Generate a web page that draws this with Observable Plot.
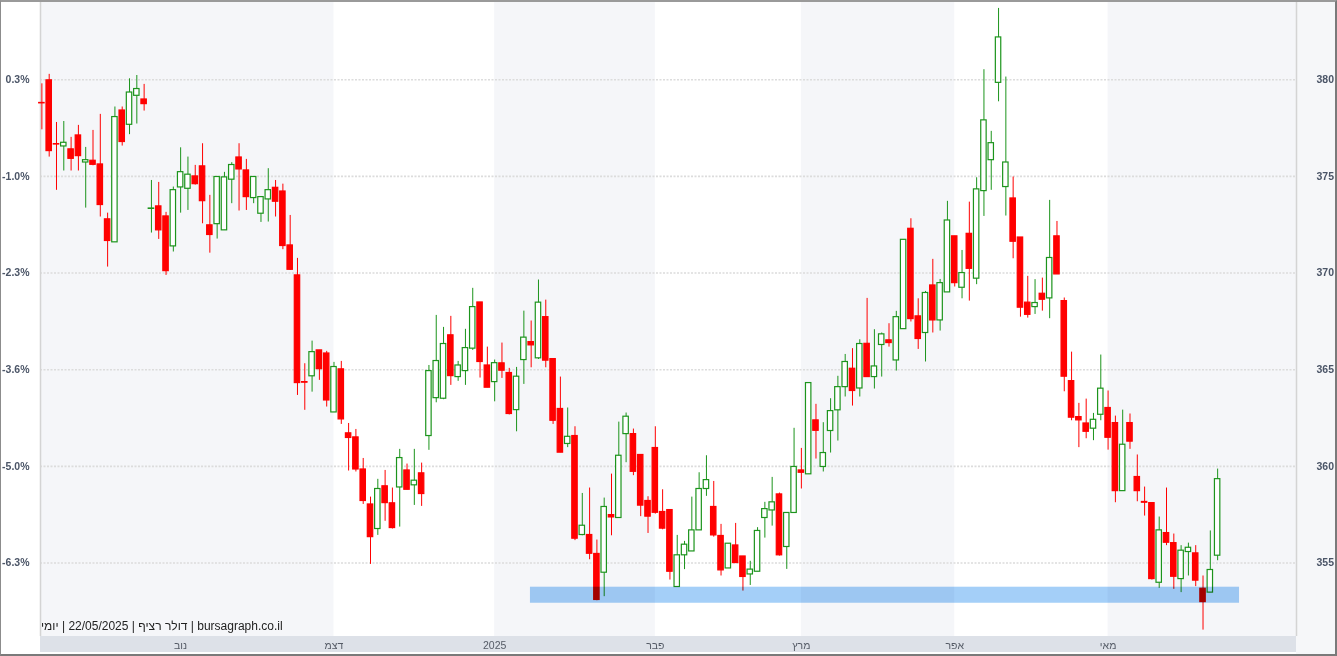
<!DOCTYPE html>
<html><head><meta charset="utf-8">
<script src="https://cdn.jsdelivr.net/npm/d3@7"></script>
<script src="https://cdn.jsdelivr.net/npm/@observablehq/plot@0.6"></script>
<style>
html,body{margin:0;padding:0;background:#fff;}
#wrap{position:relative;width:1337px;height:656px;overflow:hidden;}
#wrap svg{display:block;}
#frame{position:absolute;left:0;top:0;width:1337px;height:656px;box-sizing:border-box;border:1px solid #8c8c8c;border-top:2px solid #9a9a9a;border-right:2px solid #7a7a7a;border-bottom:2px solid #7a7a7a;pointer-events:none;}
#caption{position:absolute;left:41px;top:619px;direction:rtl;font:12px "Liberation Sans",Arial,sans-serif;color:#222;white-space:nowrap;}
</style></head><body>
<div id="wrap"><div id="caption"></div><div id="frame"></div></div>
<script>
// Daily USD/ILS candles (index = trading day)
const openP = [378.80,379.97,376.67,376.55,376.40,377.12,375.72,375.81,375.62,372.78,
371.59,378.41,377.67,379.17,378.98,373.32,373.45,372.93,371.38,374.43,
374.36,375.00,375.52,372.47,372.53,372.21,374.83,375.98,375.31,373.88,
373.07,373.81,374.41,374.22,371.43,369.88,364.36,364.66,366.00,365.84,
362.79,365.02,361.71,361.50,359.84,358.03,356.76,358.97,358.09,358.91,
359.79,359.02,359.64,361.57,363.53,363.50,366.78,364.62,364.93,366.09,
368.48,365.22,364.36,365.33,364.83,362.91,365.50,366.43,365.59,367.72,
365.55,362.97,361.16,361.57,356.45,356.45,355.47,354.50,357.48,357.33,
361.67,361.67,360.59,358.21,360.95,357.64,357.74,353.76,355.40,355.60,
356.69,358.83,357.90,356.40,354.72,355.91,355.34,354.41,354.55,357.33,
357.72,358.55,355.83,357.59,359.79,359.59,362.38,359.97,361.83,362.90,
364.10,365.05,364.03,366.34,364.62,366.28,366.52,365.48,367.10,372.29,
367.76,366.90,369.36,367.55,369.00,371.90,369.24,372.03,369.71,374.24,
375.84,379.84,374.45,373.86,371.84,368.47,368.24,368.93,368.69,371.90,
368.55,364.41,362.55,362.22,361.95,362.67,363.02,362.24,358.72,362.24,
359.45,358.16,358.10,353.98,356.55,356.03,354.17,355.57,355.50,353.67,
353.47,355.38];
const highP = [379.79,380.28,377.79,377.84,377.02,377.64,376.50,377.38,378.21,373.10,
378.59,378.59,380.05,380.22,379.76,374.79,374.69,373.14,374.45,376.48,
376.00,375.57,376.69,374.02,374.97,375.21,375.71,376.69,375.88,374.97,
373.93,375.40,374.79,374.60,372.98,370.76,365.31,366.48,366.00,365.95,
365.38,365.43,362.22,361.91,360.41,358.41,359.33,359.79,358.88,360.88,
360.12,360.88,360.17,365.22,367.81,367.19,367.76,365.43,367.09,369.21,
368.48,366.17,365.50,366.38,365.07,365.12,368.03,367.52,369.64,368.60,
365.55,364.62,363.02,362.05,358.60,358.88,356.19,358.36,359.60,362.29,
362.76,361.93,360.59,358.43,362.05,358.79,357.74,356.43,356.12,358.41,
359.67,360.55,359.22,357.00,356.00,357.05,355.34,355.09,356.83,358.14,
359.43,358.62,357.59,361.97,360.93,364.31,363.21,362.26,363.50,364.66,
365.79,366.09,366.55,368.69,367.07,366.90,367.38,368.02,371.72,372.81,
368.67,369.05,370.71,369.67,373.71,371.90,371.17,373.67,374.93,380.52,
377.33,383.69,380.14,374.97,371.84,369.83,369.66,369.74,373.76,372.67,
368.71,365.91,363.26,363.48,362.74,365.76,363.90,362.60,362.91,362.71,
360.59,358.93,358.10,357.38,358.88,356.50,355.90,356.03,355.90,354.33,
356.66,359.86];
const lowP = [377.41,376.00,374.28,375.28,375.28,375.28,373.36,375.55,372.90,370.31,
371.59,376.57,377.16,377.71,378.38,372.07,371.74,369.88,371.09,373.10,
373.24,374.55,372.55,371.03,371.76,372.21,373.59,373.21,373.24,373.59,
372.62,372.64,372.90,371.21,370.14,363.67,362.90,363.84,364.45,363.07,
362.79,362.17,359.76,359.71,358.03,354.93,356.43,357.16,356.76,356.86,
358.79,357.98,357.93,360.83,363.29,363.45,364.19,364.40,364.19,366.00,
364.57,364.07,363.34,364.55,362.66,361.79,364.24,365.10,365.53,365.10,
362.17,360.71,360.97,356.16,356.41,355.17,353.05,353.26,356.41,357.33,
360.19,359.52,357.40,356.53,357.53,356.72,354.12,353.76,354.66,355.60,
356.69,358.45,356.34,354.33,354.72,355.00,353.55,353.84,354.55,356.29,
356.91,355.36,354.67,357.59,358.83,359.59,360.38,359.71,360.69,361.31,
363.59,363.12,363.59,364.62,364.00,364.62,366.17,364.93,367.10,367.47,
366.05,365.40,366.90,367.00,369.00,369.28,368.67,368.55,369.40,372.93,
374.28,378.86,372.95,370.74,367.72,367.67,367.86,368.03,367.64,369.93,
363.86,362.36,360.97,361.43,361.33,362.36,360.84,358.12,358.72,360.88,
358.17,357.43,354.12,353.69,355.90,353.64,353.47,354.33,353.78,351.53,
353.47,355.12];
const closeP = [378.78,376.31,376.65,376.74,375.91,376.05,375.84,375.60,373.52,371.66,
378.07,376.78,379.34,379.52,378.74,373.34,372.21,370.10,374.29,375.22,
375.09,374.60,373.72,371.97,374.97,374.95,375.59,375.36,373.93,374.97,
373.93,374.29,373.69,371.40,370.17,364.31,364.33,365.91,365.03,363.41,
365.14,362.43,361.47,359.84,358.21,356.34,358.83,358.10,356.81,360.43,
358.79,359.26,358.57,364.93,365.45,366.33,364.67,365.22,366.12,368.24,
365.40,364.07,365.34,364.95,362.71,364.64,366.66,366.26,368.47,365.47,
362.36,360.71,361.53,356.26,356.93,355.48,353.09,357.90,357.36,360.55,
362.57,359.72,357.97,357.40,357.60,356.78,354.55,355.40,355.95,356.69,
358.83,359.29,356.43,354.62,356.00,355.00,354.28,354.66,356.66,357.79,
358.14,355.40,357.59,359.97,359.67,364.31,361.84,360.69,362.86,364.10,
365.40,363.90,366.33,364.62,365.17,366.83,366.38,367.72,371.72,367.62,
366.59,368.97,367.55,369.48,372.72,369.48,370.00,370.22,374.33,377.90,
376.72,382.19,375.72,371.62,368.21,367.84,368.45,368.62,370.78,369.93,
364.64,362.52,362.38,361.79,362.41,364.02,361.48,358.72,361.12,361.28,
358.72,358.12,354.17,356.69,356.05,354.29,355.64,355.79,354.09,352.98,
354.64,359.34];

// First trading day of each month (index) and labels
const monthStarts = [19, 40, 62, 84, 104, 125, 146];
const monthLabels = ["נוב", "דצמ", "2025", "פבר", "מרץ", "אפר", "מאי"];
// Price ticks (right) and % change labels (left)
const priceTicks = [380, 375, 370, 365, 360, 355];
const pctLabels = ["0.3%", "-1.0%", "-2.3%", "-3.6%", "-5.0%", "-6.3%"];
// Support zone
const zoneStart = [66.9];
const zoneEnd = [164];
const zoneLow = [352.92];
const zoneHigh = [353.75];
const captionText = "bursagraph.co.il | דולר רציף | 22/05/2025 | יומי";
const xDomain = [-0.19, 171.8];
const yDomain = [351.2, 384.1];

const RED = "#ff0000", GREEN = "#1c941c";
const candles = openP.map((o, i) => ({i, o, h: highP[i], l: lowP[i], c: closeP[i], up: closeP[i] >= o}));
const bands = [
  {a: xDomain[0], b: monthStarts[1]},
  {a: monthStarts[2], b: monthStarts[3]},
  {a: monthStarts[4], b: monthStarts[5]},
  {a: monthStarts[6], b: xDomain[1]}
];
const zone = zoneStart.map((s, k) => ({s, e: zoneEnd[k], lo: zoneLow[k], hi: zoneHigh[k]}));
const font = "Liberation Sans, Arial, sans-serif";

const chart = Plot.plot({
  width: 1337, height: 656,
  marginLeft: 40, marginRight: 41, marginTop: 0, marginBottom: 20,
  x: {domain: xDomain, axis: null},
  y: {domain: yDomain, axis: null},
  style: {background: "transparent", fontFamily: font, overflow: "visible"},
  marks: [
    Plot.rect(bands, {x1: "a", x2: "b", y1: yDomain[0], y2: yDomain[1], fill: "#f5f6f9"}),
    Plot.ruleY(priceTicks, {stroke: "#dcdcdc", strokeWidth: 1.6, strokeDasharray: "2,1.5"}),
    Plot.ruleX(xDomain, {stroke: "#d4d4d4", strokeWidth: 1.5}),
    Plot.ruleX(candles, {x: "i", y1: "l", y2: "h", stroke: d => d.up ? GREEN : RED, strokeWidth: 1}),
    Plot.rect(candles, {
      x1: d => d.i - 0.37, x2: d => d.i + 0.37,
      y1: d => Math.min(d.o, d.c), y2: d => Math.max(d.o, d.c),
      fill: d => d.up ? "#ffffff" : RED,
      stroke: d => d.up ? GREEN : RED, strokeWidth: 1.2
    }),
    Plot.rect(zone, {x1: "s", x2: "e", y1: "lo", y2: "hi", fill: "#a4cff8", mixBlendMode: "multiply"}),
    Plot.axisY(priceTicks, {anchor: "left", tickSize: 0, tickPadding: 11,
      tickFormat: d => pctLabels[priceTicks.indexOf(d)], fontSize: 10.5, fontWeight: "bold", color: "#4b5567"}),
    Plot.axisY(priceTicks, {anchor: "right", tickSize: 0, tickPadding: 20,
      tickFormat: d => String(d), fontSize: 10.5, fontWeight: "bold", color: "#4b5567"}),
    Plot.axisX(monthStarts, {anchor: "bottom", tickSize: 0, tickPadding: 5,
      tickFormat: d => monthLabels[monthStarts.indexOf(d)], fontSize: 10.5, color: "#555b66"})
  ]
});

// background strips (right margin, bottom axis band)
const svg = d3.select(chart);
const xs = chart.scale("x"), ys = chart.scale("y");
const xL = xs.apply(xDomain[0]), xR = xs.apply(xDomain[1]);
const yB = ys.apply(yDomain[0]);
const bg = svg.insert("g", ":first-child");
bg.append("rect").attr("x", xR).attr("y", 0).attr("width", 1337 - xR).attr("height", 656).attr("fill", "#f6f7f9");
bg.append("rect").attr("x", xL).attr("y", yB).attr("width", xR - xL).attr("height", 16).attr("fill", "#dde1e8");

document.getElementById("wrap").prepend(chart);
document.getElementById("caption").textContent = captionText;
</script>
</body></html>
